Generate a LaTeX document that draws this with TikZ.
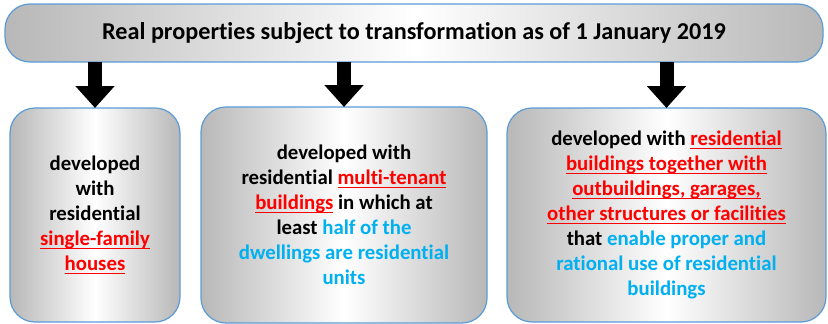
\documentclass[tikz,border=0pt]{standalone}
\usepackage{fontspec}
\setmainfont{Carlito}[Ligatures=NoCommon]
\usetikzlibrary{arrows.meta}
\definecolor{boxline}{HTML}{5B9BD5}
\definecolor{ltblue}{HTML}{00B0F0}
\newsavebox{\ulbox}
\newcommand{\redul}[1]{\textcolor{red}{\sbox{\ulbox}{#1}%
  \rlap{\rule[-3.5pt]{\wd\ulbox}{1.3pt}}\usebox{\ulbox}}}
\newcommand{\bl}[1]{\textcolor{ltblue}{#1}}

\begin{document}
\begin{tikzpicture}
  [x=1pt,y=-1pt,
   every node/.style={draw=boxline,line width=1.2pt,rounded corners=25pt,
     left color=black!28,right color=black!28,middle color=white,
     outer sep=0pt,inner sep=2pt,align=center,
     font=\fontsize{20.8}{25}\selectfont\bfseries},
   bigarrow/.style={draw=black,line width=14pt,-{Triangle[width=38pt,length=22pt]}}]
  \useasboundingbox (0,0) rectangle (828,324);
  \node[minimum width=818pt,minimum height=58pt,font=\fontsize{24.2}{29}\selectfont\bfseries]
    (title) at (414,33)
    {Real properties subject to transformation as of 1 January 2019};
  \node[minimum width=170pt,minimum height=214pt] (b1) at (95,215)
    {developed\\with\\residential\\\redul{single-family}\\\redul{houses}};
  \node[minimum width=286pt,minimum height=216pt] (b2) at (344,215)
    {developed with\\residential \redul{multi-tenant}\\\redul{buildings} in which at\\
     least \bl{half of the}\\\bl{dwellings are residential}\\\bl{units}};
  \node[minimum width=319pt,minimum height=214pt] (b3) at (666.5,215)
    {developed with \redul{residential}\\\redul{buildings together with}\\
     \redul{outbuildings, garages,}\\\redul{other structures or facilities}\\
     that \bl{enable proper and}\\\bl{rational use of residential}\\\bl{buildings}};
  \foreach \to in {b1,b2,b3}
    \draw[bigarrow] (title.south -| \to.north) -- (\to.north);

\end{tikzpicture}
\end{document}
